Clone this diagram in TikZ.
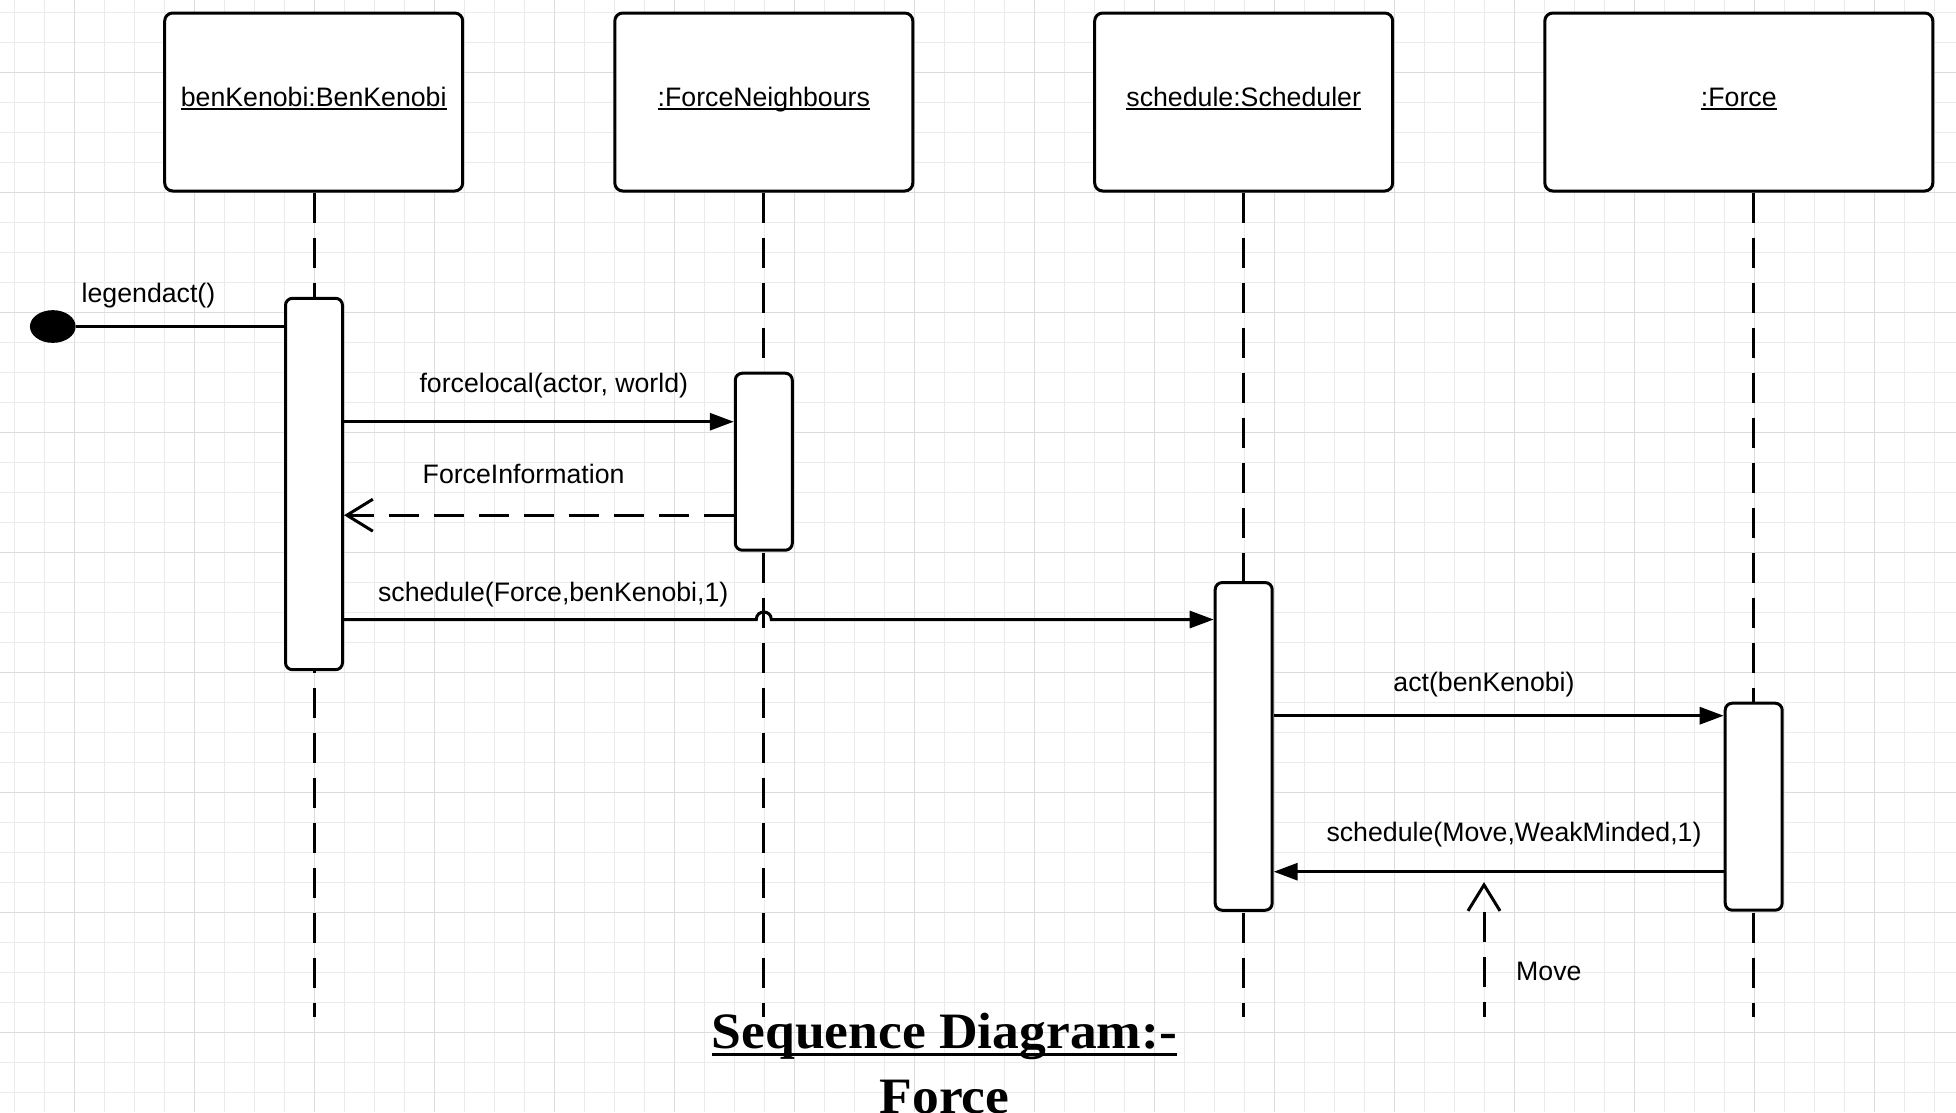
\documentclass[tikz,border=0pt]{standalone}
\usepackage{fontspec}
\setmainfont{Liberation Sans}
\newfontfamily\titlefont[FakeStretch=1.05]{Liberation Serif}
\usetikzlibrary{arrows.meta,shapes.geometric}
\newcommand\lblfont{\fontsize{26.7}{30}\selectfont}
\newcommand\myul[1]{\leavevmode\setbox0\hbox{#1}\rlap{\rule[-4pt]{\wd0}{2pt}}\box0}
\newcommand\mytul[1]{\leavevmode\setbox0\hbox{#1}\rlap{\rule[-7.2pt]{\wd0}{3pt}}\box0}
\definecolor{gridminor}{HTML}{EBEBEB}
\definecolor{gridmajor}{HTML}{DCDCDC}
\tikzset{
  minorgrid/.style={draw=gridminor, line width=1pt},
  majorgrid/.style={draw=gridmajor, line width=1.2pt},
  objbox/.style={draw, line width=3pt, rounded corners=8pt, fill=white,
    minimum width=298pt, minimum height=178pt, text height=20pt, text depth=12pt,
    inner sep=0pt, font=\lblfont},
  actbar/.style={draw, line width=3pt, rounded corners=7pt, fill=white,
    minimum width=57pt, inner sep=0pt},
  lifeline/.style={line width=3pt, dash pattern=on 30pt off 15pt},
  msg/.style={line width=3pt, -{Triangle[length=24pt,width=17pt]}},
  reply/.style={line width=3pt, dash pattern=on 30pt off 15pt,
    -{Straight Barb[length=26pt,width=32pt]}},
  lbl/.style={anchor=base, inner sep=0pt, font=\lblfont},
  startdot/.style={ellipse, fill=black, minimum width=45.7pt, minimum height=32.7pt, inner sep=0pt},
  titlestyle/.style={anchor=base, inner sep=0pt, font=\titlefont\bfseries\fontsize{51}{60}\selectfont},
}
\begin{document}
\begin{tikzpicture}[x=1pt, y=-1pt]
\useasboundingbox (0,0) rectangle (1956,1112);
\fill[white] (0,0) rectangle (1956,1112);
% grid
\foreach \i in {0,...,65} \draw[minorgrid] ({14.7+30*\i},0) -- ({14.7+30*\i},1112);
\foreach \i in {0,...,36} \draw[minorgrid] (0,{12.7+30*\i}) -- (1956,{12.7+30*\i});
\foreach \i in {0,...,15} \draw[majorgrid] ({74.7+120*\i},0) -- ({74.7+120*\i},1112);
\foreach \i in {0,...,8} \draw[majorgrid] (0,{72.7+120*\i}) -- (1956,{72.7+120*\i});

% object boxes
\node[objbox] (ben) at (313.7,102) {\myul{benKenobi:BenKenobi}};
\node[objbox] (fn) at (763.8,102) {\myul{:ForceNeighbours}};
\node[objbox] (sch) at (1243.7,102) {\myul{schedule:Scheduler}};
\node[objbox, minimum width=388pt] (frc) at (1738.8,102) {\myul{:Force}};

\coordinate (bottom) at (0,1017);

% activation bar positions
\coordinate (a1c) at (314,484);
\coordinate (a2c) at (763.8,461.7);
\coordinate (a3c) at (1243.7,746.4);
\coordinate (a4c) at (1753.7,806.7);

% lifelines
\draw[lifeline] (a1c |- ben.south) -- (a1c |- bottom);
\draw[lifeline] (a2c |- fn.south) -- (a2c |- bottom);
\draw[lifeline] (a3c |- sch.south) -- (a3c |- bottom);
\draw[lifeline] (a4c |- frc.south) -- (a4c |- bottom);

% activation bars
\node[actbar, minimum height=371.4pt] (a1) at (a1c) {};
\node[actbar, minimum height=177pt] (a2) at (a2c) {};
\node[actbar, minimum height=327.7pt] (a3) at (a3c) {};
\node[actbar, minimum height=207pt] (a4) at (a4c) {};

% message levels
\coordinate (y1) at (0,421.7);
\coordinate (y2) at (0,515.2);
\coordinate (y3) at (0,619.5);
\coordinate (y4) at (0,715.7);
\coordinate (y5) at (0,871.7);

% found message
\node[startdot] (start) at (52.8,326.5) {};
\draw[line width=3pt] (start.east) -- (a1.west |- start);
\node[lbl] (lleg) at (148.5,302.7) {legendact()};

% forcelocal
\draw[msg] (a1.east |- y1) -- (a2.west |- y1);
\node[lbl] (lfl) at (553.8,392.3) {forcelocal(actor, world)};

% ForceInformation
\draw[reply] (a2.west |- y2) -- (a1.east |- y2);
\node[lbl] (lfi) at (523.6,483) {ForceInformation};

% schedule(Force,...)
\coordinate (jump) at (a2c |- y3);
\draw[msg] (a1.east |- y3) -- ([xshift=-7.5pt]jump)
  .. controls ([shift={(-7.5pt,10pt)}]jump) and ([shift={(7.5pt,10pt)}]jump) .. ([xshift=7.5pt]jump)
  -- (a3.west |- y3);
\node[lbl] (ls1) at (553.2,601) {schedule(Force,benKenobi,1)};

% act
\draw[msg] (a3.east |- y4) -- (a4.west |- y4);
\node[lbl] (lact) at (1484,691.7) {act(benKenobi)};

% schedule(Move,...)
\draw[msg] (a4.west |- y5) -- (a3.east |- y5);
\node[lbl] (ls2) at (1514,841.7) {schedule(Move,WeakMinded,1)};

% Move
\coordinate (movebot) at (1484,1017);
\coordinate (movetop) at (1484,882);
\draw[line width=3pt, dash pattern=on 15pt off 15pt on 30pt off 15pt on 30pt off 30pt,
  -{Straight Barb[length=26pt,width=32pt]}] (movebot) -- (movetop);
\node[lbl, anchor=base west] (lmove) at (1516,980) {Move};

% title
\node[titlestyle] (title1) at (944.5,1048.3) {\mytul{Sequence Diagram:-}};
\node[titlestyle] (title2) at (944.5,1113.5) {Force};
\end{tikzpicture}
\end{document}
